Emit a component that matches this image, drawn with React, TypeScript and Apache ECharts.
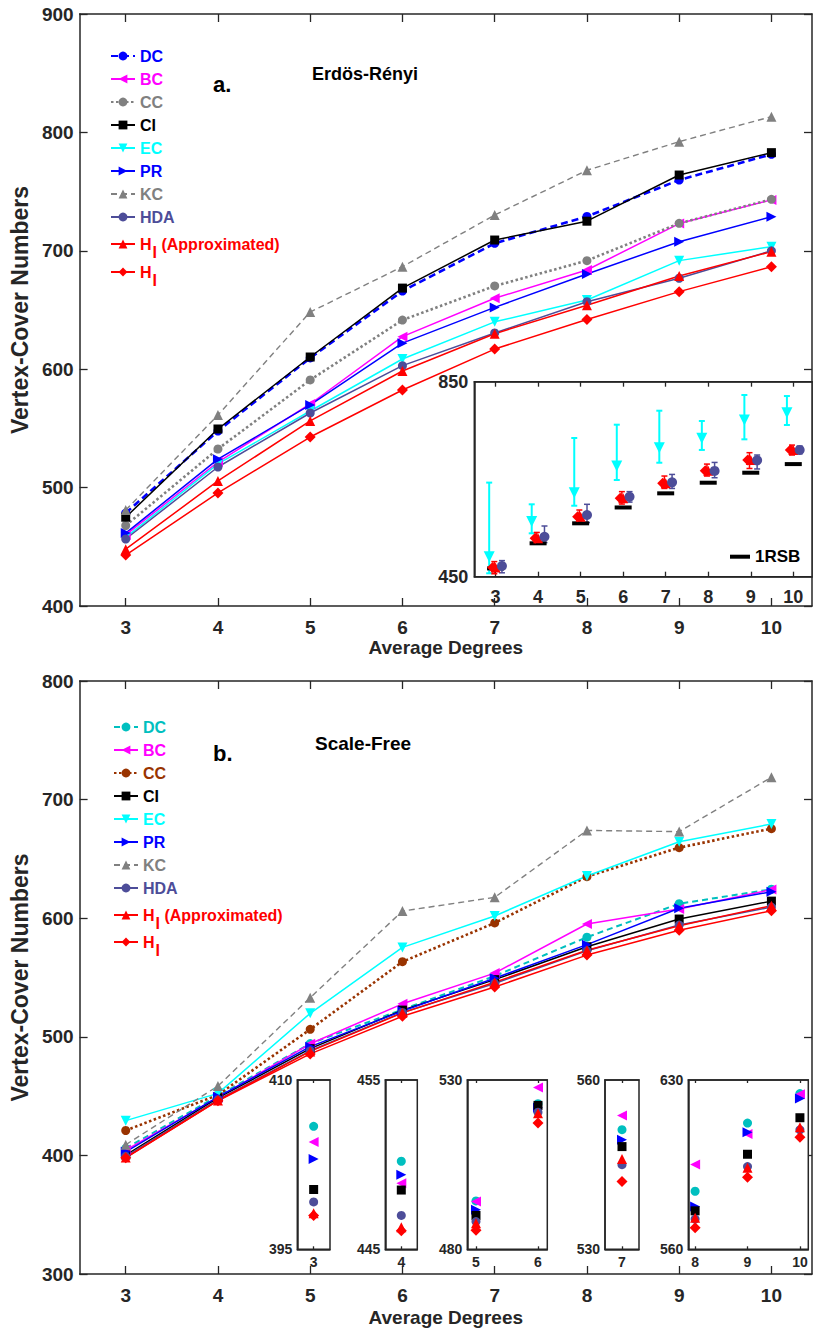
import React, { useEffect, useRef } from 'react';
import * as echarts from 'echarts';

// ---------- data ----------
const X = [3, 4, 5, 6, 7, 8, 9, 10];

// Erdös-Rényi (panel a)
const erDC = [478.5, 547.8, 609.5, 666, 706.3, 729, 759.8, 781.5];
const erBC = [460, 521.6, 570.6, 627.5, 659.9, 683.8, 723, 743];
const erCC = [468, 532.6, 590.9, 641.5, 670.3, 691.7, 723.2, 743.5];
const erCI = [475, 549.5, 610.3, 668.5, 709.1, 725, 764, 782.9];
const erEC = [458, 520, 564.7, 608.6, 640, 658.4, 691.7, 703.5];
const erPR = [461.6, 524, 569.8, 622, 652.2, 680.4, 707.7, 728.8];
const erKC = [481, 561.3, 648.3, 686.6, 730.2, 768, 792.2, 813.3];
const erHDA = [456.6, 517.4, 563, 603, 630.6, 657, 676.8, 700];
const erHIa = [448, 505.6, 556.3, 598.5, 630, 654, 678.7, 699.3];
const erHI = [443, 495.5, 542.7, 582.4, 617, 642, 665.5, 686.6];

// Erdös-Rényi inset (with error bars)
const inEC = [491, 563, 622.3, 677, 714.6, 733.9, 771.4, 786.4];
const inECLo = [457, 539, 595.6, 648.4, 683.8, 710, 731.8, 761.2];
const inECHi = [643, 598.5, 734.5, 761.8, 790.5, 769.4, 822.7, 820.6];
const inHI = [469, 528.7, 573, 610.8, 641.6, 667.4, 689.4, 710];
const inHILo = [456, 517, 562.8, 599, 631, 656.5, 672, 699.6];
const inHIHi = [481, 540.8, 586.8, 624.5, 656.5, 681, 704.4, 720];
const inHDA = [472, 532, 576.5, 614, 643.6, 667, 688.7, 710];
const inHDALo = [458, 520, 561, 603, 631, 653, 671, 702];
const inHDAHi = [483, 554, 598.5, 624.5, 659.8, 684.4, 699.6, 718];
const in1RSB = [467, 518.5, 559.5, 592, 621, 642.8, 663.3, 681];

// Scale-Free (panel b)
const sfDC = [405.9, 450.2, 494.3, 523, 551.2, 584, 612.2, 624.4];
const sfBC = [404.5, 448.9, 494.1, 527.8, 553.7, 595.1, 607.7, 624.1];
const sfCC = [421, 451, 506.3, 563.3, 596, 635, 659.5, 675.5];
const sfCI = [400.3, 448.5, 490, 522.5, 548.2, 575.9, 599.3, 614.4];
const sfEC = [429.3, 452.3, 519.8, 575.4, 601.9, 635.6, 664.5, 679.4];
const sfPR = [403, 449.4, 491.7, 521.8, 549.4, 577.7, 608.4, 622.3];
const sfKC = [409, 458.5, 533, 606, 617.6, 674, 673, 718.8];
const sfHDA = [399.2, 447, 488.2, 520.5, 545, 572.5, 594.2, 609.4];
const sfHIa = [398.2, 446.3, 487.7, 520.2, 546, 573, 593.7, 610.5];
const sfHI = [398, 446.1, 485.6, 517.3, 542, 568.9, 589.8, 606.3];

// ---------- styling ----------
const FONT = "'Liberation Sans', Arial, Helvetica, sans-serif";
const AX = '#262626';
const C = {
  blue: '#0000ff', mag: '#ff00ff', gray: '#808080', black: '#000000', cyan: '#00ffff',
  hda: '#4d4d99', red: '#ff0000', teal: '#00bfbf', brown: '#993300',
};

type Spec = { key: string; color: string; symbol: string; rotate: number; lt: any; w: number; size: number };

const topSpecs: Spec[] = [
  { key: 'DC', color: C.blue, symbol: 'circle', rotate: 0, lt: [7, 4], w: 2.6, size: 9 },
  { key: 'BC', color: C.mag, symbol: 'triangle', rotate: 90, lt: 'solid', w: 1.5, size: 10 },
  { key: 'CC', color: C.gray, symbol: 'circle', rotate: 0, lt: [2.5, 2.5], w: 2.6, size: 9 },
  { key: 'CI', color: C.black, symbol: 'rect', rotate: 0, lt: 'solid', w: 1.5, size: 9 },
  { key: 'EC', color: C.cyan, symbol: 'triangle', rotate: 180, lt: 'solid', w: 1.5, size: 10 },
  { key: 'PR', color: C.blue, symbol: 'triangle', rotate: -90, lt: 'solid', w: 1.5, size: 10 },
  { key: 'KC', color: C.gray, symbol: 'triangle', rotate: 0, lt: [6, 4], w: 1.4, size: 10 },
  { key: 'HDA', color: C.hda, symbol: 'circle', rotate: 0, lt: 'solid', w: 1.5, size: 9 },
  { key: 'HIa', color: C.red, symbol: 'triangle', rotate: 0, lt: 'solid', w: 1.5, size: 10 },
  { key: 'HI', color: C.red, symbol: 'diamond', rotate: 0, lt: 'solid', w: 1.5, size: 11 },
];
const botSpecs: Spec[] = topSpecs.map((s) => {
  if (s.key === 'DC') return { ...s, color: C.teal, lt: [6, 4], w: 2 };
  if (s.key === 'CC') return { ...s, color: C.brown, lt: [2.5, 2.5], w: 2.6 };
  return s;
});
const topData: Record<string, number[]> = {
  DC: erDC, BC: erBC, CC: erCC, CI: erCI, EC: erEC, PR: erPR, KC: erKC, HDA: erHDA, HIa: erHIa, HI: erHI,
};
const botData: Record<string, number[]> = {
  DC: sfDC, BC: sfBC, CC: sfCC, CI: sfCI, EC: sfEC, PR: sfPR, KC: sfKC, HDA: sfHDA, HIa: sfHIa, HI: sfHI,
};

function App() {
  const ref = useRef<HTMLDivElement>(null);
  useEffect(() => {
    if (!ref.current) return;
    const chart = echarts.init(ref.current, undefined, { renderer: 'svg' });

    const lab = (size: number) => ({ fontFamily: FONT, fontWeight: 'bold' as const, color: AX, fontSize: size });
    const axLine = { show: true, onZero: false, lineStyle: { color: AX, width: 1.5 } };
    const tk = (len: number, vals?: number[]) => ({
      show: true, inside: true, length: len, lineStyle: { color: AX, width: 1.3 }, ...(vals ? { customValues: vals } : {}),
    });

    const grids: any[] = [
      { left: 71, top: 14, width: 741, height: 592 },
      { left: 474.3, top: 381.7, width: 337.7, height: 195, show: true, backgroundColor: '#fff', borderColor: AX, borderWidth: 1.5, z: 5 },
      { left: 71, top: 681, width: 741, height: 593 },
    ];
    const sfInsets = [
      { xs: [3], left: 297.3, width: 32.7, xmin: 2.5, xmax: 3.5, ymin: 395, ymax: 410 },
      { xs: [4], left: 385.3, width: 32, xmin: 3.5, xmax: 4.5, ymin: 445, ymax: 455 },
      { xs: [5, 6], left: 467.3, width: 80, xmin: 4.86, xmax: 6.15, ymin: 480, ymax: 530 },
      { xs: [7], left: 605, width: 34, xmin: 6.5, xmax: 7.5, ymin: 530, ymax: 560 },
      { xs: [8, 9, 10], left: 688.3, width: 120, xmin: 7.87, xmax: 10.16, ymin: 560, ymax: 630 },
    ];

    const xAxis: any[] = [];
    const yAxis: any[] = [];

    const mainX = (g: number, gap: number) => {
      xAxis.push({
        type: 'value', gridIndex: g, min: 2.5, max: 10.44, position: 'bottom', splitLine: { show: false },
        axisLine: axLine, axisTick: tk(8, X), axisLabel: { customValues: X, margin: 12, ...lab(19) },
        name: 'Average Degrees', nameLocation: 'middle', nameGap: gap, nameTextStyle: lab(19),
      });
      xAxis.push({
        type: 'value', gridIndex: g, min: 2.5, max: 10.44, position: 'top', splitLine: { show: false },
        axisLine: axLine, axisTick: tk(8, X), axisLabel: { show: false },
      });
    };
    const mainY = (g: number, min: number, max: number) => {
      yAxis.push({
        type: 'value', gridIndex: g, min, max, interval: 100, position: 'left', splitLine: { show: false },
        axisLine: axLine, axisTick: tk(8), axisLabel: { margin: 6, ...lab(19) },
        name: 'Vertex-Cover Numbers', nameLocation: 'middle', nameGap: 40, nameRotate: 90, nameTextStyle: lab(23),
      });
      yAxis.push({
        type: 'value', gridIndex: g, min, max, interval: 100, position: 'right', splitLine: { show: false },
        axisLine: axLine, axisTick: tk(8), axisLabel: { show: false },
      });
    };

    // top main: x 0,1  y 0,1
    mainX(0, 30);
    mainY(0, 400, 900);
    // top inset: x 2,3  y 2
    xAxis.push({
      type: 'value', gridIndex: 1, min: 2.5, max: 10.44, position: 'bottom', splitLine: { show: false }, z: 6,
      axisLine: axLine, axisTick: tk(5, X), axisLabel: { customValues: X, margin: 11, ...lab(18) },
    });
    xAxis.push({
      type: 'value', gridIndex: 1, min: 2.5, max: 10.44, position: 'top', splitLine: { show: false }, z: 6,
      axisLine: axLine, axisTick: tk(5, X), axisLabel: { show: false },
    });
    yAxis.push({
      type: 'value', gridIndex: 1, min: 450, max: 850, position: 'left', splitLine: { show: false }, z: 6,
      axisLine: axLine, axisTick: { show: false }, axisLabel: { customValues: [450, 850], margin: 6, ...lab(18) },
    });
    // bottom main: x 4,5  y 3,4
    mainX(2, 34);
    mainY(2, 300, 800);

    // bottom insets
    sfInsets.forEach((ins) => {
      grids.push({
        left: ins.left, top: 1080, width: ins.width, height: 169.3, show: true, backgroundColor: '#fff',
        borderColor: AX, borderWidth: 1.5, z: 5,
      });
      const g = grids.length - 1;
      xAxis.push({
        type: 'value', gridIndex: g, min: ins.xmin, max: ins.xmax, position: 'bottom', splitLine: { show: false }, z: 6,
        axisLine: axLine, axisTick: tk(3, ins.xs), axisLabel: { customValues: ins.xs, margin: 6, ...lab(14) },
      });
      xAxis.push({
        type: 'value', gridIndex: g, min: ins.xmin, max: ins.xmax, position: 'top', splitLine: { show: false }, z: 6,
        axisLine: axLine, axisTick: tk(3, ins.xs), axisLabel: { show: false },
      });
      yAxis.push({
        type: 'value', gridIndex: g, min: ins.ymin, max: ins.ymax, position: 'left', splitLine: { show: false }, z: 6,
        axisLine: axLine, axisTick: { show: false },
        axisLabel: { customValues: [ins.ymin, ins.ymax], margin: 5, ...lab(14) },
      });
    });

    const series: any[] = [];
    const lineS = (s: Spec, data: number[], xi: number, yi: number, name: string) => ({
      type: 'line', name, xAxisIndex: xi, yAxisIndex: yi, silent: true, z: 3,
      data: X.map((x, i) => [x, data[i]]),
      symbol: s.symbol, symbolSize: s.size, symbolRotate: s.rotate, showSymbol: true,
      lineStyle: { color: s.color, width: s.w, type: s.lt }, itemStyle: { color: s.color },
    });
    topSpecs.forEach((s) => series.push(lineS(s, topData[s.key], 0, 0, s.key)));
    botSpecs.forEach((s) => series.push(lineS(s, botData[s.key], 4, 3, s.key + '_b')));

    // top inset
    const errS = (name: string, off: number, lo: number[], hi: number[], color: string, lw: number) => ({
      type: 'custom', name, xAxisIndex: 2, yAxisIndex: 2, silent: true, z: 8,
      data: X.map((x, i) => [x + off, lo[i], hi[i]]),
      encode: { x: 0, y: [1, 2] },
      renderItem: (_p: any, api: any) => {
        const x = api.value(0);
        const a = api.coord([x, api.value(2)]);
        const b = api.coord([x, api.value(1)]);
        const w = 3;
        const st = { stroke: color, lineWidth: lw };
        return {
          type: 'group',
          children: [
            { type: 'line', shape: { x1: a[0], y1: a[1], x2: b[0], y2: b[1] }, style: st },
            { type: 'line', shape: { x1: a[0] - w, y1: a[1], x2: a[0] + w, y2: a[1] }, style: st },
            { type: 'line', shape: { x1: b[0] - w, y1: b[1], x2: b[0] + w, y2: b[1] }, style: st },
          ],
        };
      },
    });
    const scatS = (name: string, xi: number, yi: number, pts: number[][], symbol: string, size: any, rotate: number, color: string, z = 9) => ({
      type: 'scatter', name, xAxisIndex: xi, yAxisIndex: yi, silent: true, z,
      data: pts, symbol, symbolSize: size, symbolRotate: rotate, itemStyle: { color, opacity: 1 },
    });
    series.push(scatS('1RSB', 2, 2, X.map((x, i) => [x, in1RSB[i]]), 'rect', [17, 4], 0, C.black, 8));
    series.push(errS('inECerr', -0.15, inECLo, inECHi, C.cyan, 2));
    series.push(scatS('inEC', 2, 2, X.map((x, i) => [x - 0.15, inEC[i]]), 'triangle', 11, 180, C.cyan));
    series.push(errS('inHIerr', -0.03, inHILo, inHIHi, C.red, 1.5));
    series.push(scatS('inHIa', 2, 2, X.map((x, i) => [x + 0.0, inHI[i]]), 'triangle', 10, 0, C.red));
    series.push(scatS('inHI', 2, 2, X.map((x, i) => [x - 0.07, inHI[i]]), 'diamond', 11, 0, C.red));
    series.push(errS('inHDAerr', 0.15, inHDALo, inHDAHi, C.hda, 1.5));
    series.push(scatS('inHDA', 2, 2, X.map((x, i) => [x + 0.15, inHDA[i]]), 'circle', 10, 0, C.hda));

    // bottom insets
    const insetKeys = ['DC', 'BC', 'PR', 'CI', 'HDA', 'HIa', 'HI'];
    sfInsets.forEach((ins, k) => {
      const xi = 6 + k * 2;
      const yi = 5 + k;
      insetKeys.forEach((key) => {
        const s = botSpecs.find((b) => b.key === key)!;
        const pts = ins.xs.map((x) => [x, botData[key][X.indexOf(x)]]);
        series.push(scatS(key + '_in' + k, xi, yi, pts, s.symbol, s.size, s.rotate, s.color));
      });
    });

    const mainNames = ['DC', 'BC', 'CC', 'CI', 'EC', 'PR', 'KC', 'HDA'];
    const rich = {
      m: { fontSize: 16, fontWeight: 'bold', color: C.red, fontFamily: FONT, padding: [8, 0, 8, 0] },
      s: { fontSize: 16, fontWeight: 'bold', color: C.red, fontFamily: FONT, padding: [16, 0, 0, 1] },
    };
    const mkLegends = (specs: Spec[], suffix: string, left: number, top: number, hiaTop: number, hiTop: number) => [
      {
        left, top, orient: 'vertical', itemGap: 0, itemWidth: 24, itemHeight: 11, selectedMode: false,
        textStyle: { fontSize: 16, fontWeight: 'bold', fontFamily: FONT, lineHeight: 23 },
        formatter: (n: string) => n.replace('_b', ''),
        data: mainNames.map((n) => ({ name: n + suffix, textStyle: { color: specs.find((s) => s.key === n)!.color } })),
      },
      {
        left, top: hiaTop, orient: 'vertical', itemGap: 0, itemWidth: 24, itemHeight: 11, selectedMode: false,
        textStyle: { rich }, formatter: () => '{m|H}{s|I}{m| (Approximated)}',
        data: [{ name: 'HIa' + suffix }],
      },
      {
        left, top: hiTop, orient: 'vertical', itemGap: 0, itemWidth: 24, itemHeight: 11, selectedMode: false,
        textStyle: { rich }, formatter: () => '{m|H}{s|I}',
        data: [{ name: 'HI' + suffix }],
      },
    ];

    const legend: any[] = [
      ...mkLegends(topSpecs, '', 105, 39.5, 231, 259),
      ...mkLegends(botSpecs, '_b', 108, 710.5, 902, 929),
      {
        left: 725, top: 541.7, itemWidth: 20, itemHeight: 4, selectedMode: false, z: 10,
        textStyle: { fontSize: 17, fontWeight: 'bold', fontFamily: FONT, color: C.black, lineHeight: 20 },
        data: [{ name: '1RSB', icon: 'rect' }],
      },
    ];

    chart.setOption({
      animation: false,
      backgroundColor: '#ffffff',
      grid: grids,
      xAxis,
      yAxis,
      legend,
      series,
      graphic: [
        { type: 'text', x: 213, y: 84, z: 20, style: { text: 'a.', fontSize: 22, fontWeight: 'bold', fontFamily: FONT, fill: '#000', verticalAlign: 'middle' } },
        { type: 'text', x: 312, y: 74, z: 20, style: { text: 'Erdös-Rényi', fontSize: 18, fontWeight: 'bold', fontFamily: FONT, fill: '#000', verticalAlign: 'middle' } },
        { type: 'text', x: 213, y: 753, z: 20, style: { text: 'b.', fontSize: 22, fontWeight: 'bold', fontFamily: FONT, fill: '#000', verticalAlign: 'middle' } },
        { type: 'text', x: 315, y: 743, z: 20, style: { text: 'Scale-Free', fontSize: 19, fontWeight: 'bold', fontFamily: FONT, fill: '#000', verticalAlign: 'middle' } },
      ],
    });
    return () => chart.dispose();
  }, []);
  return <div ref={ref} style={{ position: 'absolute', left: 0, top: 0, width: 813, height: 1334, background: '#fff' }} />;
}

export default App;
